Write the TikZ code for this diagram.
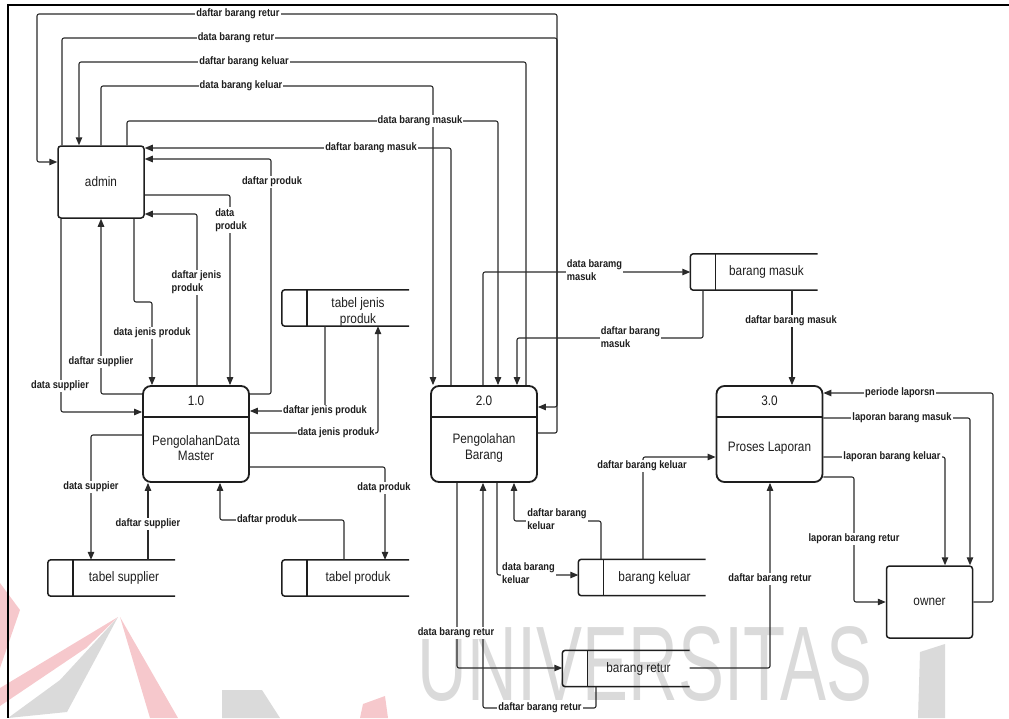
\documentclass[tikz,border=0pt]{standalone}
\usepackage{fontspec}
\setmainfont{Liberation Sans}[FakeStretch=0.86]
\newfontfamily\wmfont{Liberation Sans}[FakeStretch=0.65]
\usetikzlibrary{arrows.meta}

\definecolor{ink}{HTML}{1E1E1E}
\definecolor{wire}{HTML}{2A2A2A}
\definecolor{wmgray}{HTML}{DADADA}
\definecolor{wmred}{HTML}{F6C8CC}

\tikzset{
  flow/.style={draw=wire, line width=1.1pt, rounded corners=2pt,
    -{Triangle[length=8pt,width=6.5pt]}},
  lbl/.style={fill=white, inner sep=1pt, text=ink, align=left,
    font=\fontsize{10.8}{13}\selectfont\bfseries},
  ext/.style={draw=ink, line width=1.5pt, rounded corners=3pt,
    minimum width=86pt, minimum height=72pt, inner sep=0pt, text=ink,
    font=\fontsize{13.7}{15.5}\selectfont},
  proc/.style={draw=ink, line width=1.8pt, rounded corners=8pt,
    minimum width=106pt, minimum height=96pt, inner sep=0pt},
  ptext/.style={font=\fontsize{13.7}{15.5}\selectfont, text=ink,
    align=center, inner sep=0pt},
  store/.style={minimum width=127pt, minimum height=36pt, inner sep=0pt},
  storeedge/.style={draw=ink, line width=1.5pt, rounded corners=3pt},
  frameline/.style={draw=black, line width=2pt},
}

% process: name, centre, number, title
\newcommand\procbox[4]{%
  \node[proc] (#1) at (#2) {};
  \draw[draw=ink, line width=1.8pt]
    ([yshift=-32pt]#1.north west) -- ([yshift=-32pt]#1.north east);
  \node[ptext] (#1-id) at ([yshift=-16pt]#1.north) {#3};
  \node[ptext] (#1-name) at ([yshift=-14pt]#1.center) {#4};
}

% open-ended data store: [text drop], name, centre, title
\newcommand\datastore[4][0pt]{%
  \node[store] (#2) at (#3) {};
  \draw[storeedge] (#2.north east) -- (#2.north west)
    -- (#2.south west) -- (#2.south east);
  \draw[storeedge] ([xshift=25pt]#2.north west) -- ([xshift=25pt]#2.south west);
  \node[ptext] (#2-label) at ([xshift=12.5pt,yshift=-#1]#2.center) {#4};
}

\begin{document}
\begin{tikzpicture}[x=1pt, y=-1pt]
\useasboundingbox (0,0) rectangle (1009,718);

% faint watermark in the background
\begin{scope}
  \fill[wmred] (0,583) -- (20,610) -- (0,668) -- cycle;
  \fill[wmgray] (118,617) -- (67,712) -- (8,718) -- (60,680) -- cycle;
  \fill[wmred] (0,688) -- (118,617) -- (86,648) -- (0,706) -- cycle;
  \fill[wmred] (120,617) -- (178,718) -- (150,718) -- cycle;
  \fill[wmgray] (222,690) -- (262,690) -- (280,718) -- (222,718) -- cycle;
  \fill[wmred] (363,704) -- (385,696) -- (388,718) -- (360,718) -- cycle;
  \fill[wmgray] (920,652) -- (945,644) -- (945,718) -- (918,718) -- cycle;
  \node[text=wmgray, font=\wmfont\fontsize{106}{106}\selectfont, inner sep=0pt]
    (wm) at (645,664) {UNIVERSITAS};
\end{scope}

% frame
\draw[frameline] (1009,5) -- (8,5) -- (8,718);

% external entities
\node[ext] (admin) at (101,182) {admin};
\node[ext] (owner) at (929.5,602) {owner};

% processes
\procbox{p1}{196,434}{1.0}{PengolahanData\\Master}
\procbox{p2}{484,434}{2.0}{Pengolahan\\Barang}
\procbox{p3}{769.5,434}{3.0}{Proses Laporan}

% data stores
\datastore[4pt]{sjp}{345.5,308}{tabel jenis\\produk}
\datastore{ssup}{111.5,578}{tabel supplier}
\datastore{sprod}{345.5,578}{tabel produk}
\datastore{sbm}{754,272}{barang masuk}
\datastore{sbk}{642,577.5}{barang keluar}
\datastore{sbr}{626,668.5}{barang retur}

% admin <-> 2.0, routed over the top
\draw[flow] (p2.east |- 0,433) -- (557,433) -- (557,14) -- (37,14) -- (37,162) -- (admin.west |- 0,162);
\draw[flow] (admin.north -| 62,0) -- (62,38) -- (557,38) -- (557,407) -- (p2.east |- 0,407);
\draw[flow] (p2.north -| 526,0) -- (526,62) -- (79,62) -- (admin.north -| 79,0);
\draw[flow] (admin.north -| 101,0) -- (101,86) -- (433,86) -- (p2.north -| 433,0);
\draw[flow] (admin.north -| 127,0) -- (127,121) -- (498,121) -- (p2.north -| 498,0);
\draw[flow] (p2.north -| 451,0) -- (451,148) -- (admin.east |- 0,148);

% admin <-> 1.0
\draw[flow] (p1.east |- 0,394) -- (271,394) -- (271,159) -- (admin.east |- 0,159);
\draw[flow] (admin.east |- 0,195) -- (230,195) -- (p1.north -| 230,0);
\draw[flow] (p1.north -| 197,0) -- (197,214) -- (admin.east |- 0,214);
\draw[flow] (admin.south -| 134,0) -- (134,302) -- (152,302) -- (p1.north -| 152,0);
\draw[flow] (p1.west |- 0,394) -- (101,394) -- (admin.south -| 101,0);
\draw[flow] (admin.south -| 61,0) -- (61,412) -- (p1.west |- 0,412);

% 1.0 <-> master tables
\draw[flow] (sjp.south -| 325,0) -- (325,411) -- (p1.east |- 0,411);
\draw[flow] (p1.east |- 0,433) -- (378,433) -- (sjp.south -| 378,0);
\draw[flow] (p1.west |- 0,435) -- (91,435) -- (ssup.north -| 91,0);
\draw[flow] (ssup.north -| 148,0) -- (p1.south -| 148,0);
\draw[flow] (sprod.north -| 344,0) -- (344,520) -- (220,520) -- (p1.south -| 220,0);
\draw[flow] (p1.east |- 0,467) -- (385,467) -- (sprod.north -| 385,0);

% 2.0 <-> transaction stores, stores -> 3.0
\draw[flow] (p2.north -| 483,0) -- (483,272) -- (sbm.west |- 0,272);
\draw[flow] (sbm.south -| 703,0) -- (703,338) -- (517,338) -- (p2.north -| 517,0);
\draw[flow] (sbm.south -| 792,0) -- (p3.north -| 792,0);
\draw[flow] (sbk.north -| 601,0) -- (601,521) -- (514,521) -- (p2.south -| 514,0);
\draw[flow] (p2.south -| 497,0) -- (497,575) -- (sbk.west |- 0,575);
\draw[flow] (sbk.north -| 643,0) -- (643,457) -- (p3.west |- 0,457);
\draw[flow] (p2.south -| 457,0) -- (457,668) -- (sbr.west |- 0,668);
\draw[flow] (sbr.south -| 596,0) -- (596,708) -- (483,708) -- (p2.south -| 483,0);
\draw[flow] (sbr.east |- 0,668) -- (770,668) -- (p3.south -| 770,0);

% 3.0 <-> owner
\draw[flow] (owner.east |- 0,602) -- (993,602) -- (993,393) -- (p3.east |- 0,393);
\draw[flow] (p3.east |- 0,418) -- (970,418) -- (owner.north -| 970,0);
\draw[flow] (p3.east |- 0,457) -- (945,457) -- (owner.north -| 945,0);
\draw[flow] (p3.east |- 0,477) -- (854,477) -- (854,602) -- (owner.west |- 0,602);

% flow labels
\node[lbl] (t1) at (238,14) {daftar barang retur};
\node[lbl] (t2) at (236,38) {data barang retur};
\node[lbl] (t3) at (244,62) {daftar barang keluar};
\node[lbl] (t4) at (241,86) {data barang keluar};
\node[lbl] (t5) at (420,121) {data barang masuk};
\node[lbl] (t6) at (371,148) {daftar barang masuk};
\node[lbl] (t7) at (272,182) {daftar produk};
\node[lbl] (t8) at (231,220) {data\\produk};
\node[lbl] (t9) at (196.5,282.5) {daftar jenis\\produk};
\node[lbl] (t10) at (152,333) {data jenis produk};
\node[lbl] (t11) at (101,362) {daftar supplier};
\node[lbl] (t12) at (60,386) {data supplier};
\node[lbl] (t13) at (325,411) {daftar jenis produk};
\node[lbl] (t14) at (336,433) {data jenis produk};
\node[lbl] (t15) at (91,487) {data suppier};
\node[lbl] (t16) at (148,524) {daftar supplier};
\node[lbl] (t17) at (267,520) {daftar produk};
\node[lbl] (t18) at (384,488) {data produk};
\node[lbl] (t19) at (594.5,270.5) {data baramg\\masuk};
\node[lbl] (t20) at (630.5,337.5) {daftar barang\\masuk};
\node[lbl] (t21) at (791,321) {daftar barang masuk};
\node[lbl] (t22) at (557,519.5) {daftar barang\\keluar};
\node[lbl] (t23) at (528.5,573.5) {data barang\\keluar};
\node[lbl] (t24) at (642,466) {daftar barang keluar};
\node[lbl] (t25) at (456,633) {data barang retur};
\node[lbl] (t26) at (540,708) {daftar barang retur};
\node[lbl] (t27) at (770,579) {daftar barang retur};
\node[lbl] (t28) at (900,393) {periode laporsn};
\node[lbl] (t29) at (902,418) {laporan barang masuk};
\node[lbl] (t30) at (892,457) {laporan barang keluar};
\node[lbl] (t31) at (854,539) {laporan barang retur};
\end{tikzpicture}
\end{document}
